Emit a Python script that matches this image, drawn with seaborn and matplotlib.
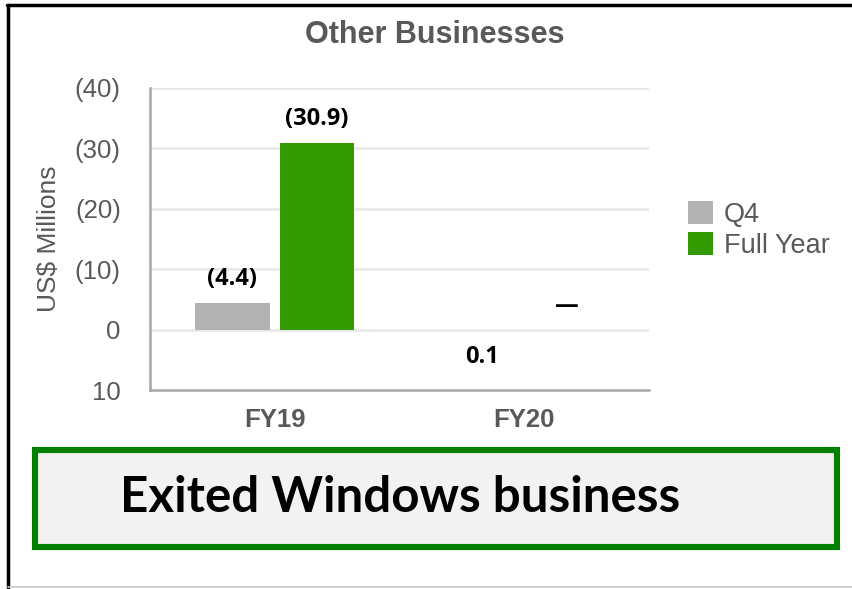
import matplotlib
matplotlib.use("Agg")
import matplotlib.pyplot as plt
import seaborn as sns
import pandas as pd
from matplotlib.patches import Patch, Rectangle
from matplotlib.lines import Line2D

# ---- data ----
categories = ["FY19", "FY20"]
series_names = ["Q4", "Full Year"]
q4_values = [-4.4, 0.1]
full_year_values = [-30.9, 0.0]
q4_labels = ["(4.4)", "0.1"]
full_year_labels = ["(30.9)", "\u2014"]
y_ticks = [-40, -30, -20, -10, 0, 10]
y_tick_labels = ["(40)", "(30)", "(20)", "(10)", "0", "10"]

colors = {"Q4": "#b2b2b2", "Full Year": "#339900"}
text_gray = "#595959"

df = pd.DataFrame({
    "Year": categories * 2,
    "Series": [series_names[0]] * len(categories) + [series_names[1]] * len(categories),
    "Value": q4_values + full_year_values,
})
labels_by_series = {"Q4": q4_labels, "Full Year": full_year_labels}

sns.set_theme(style="white")
plt.rcParams["font.family"] = ["Liberation Sans", "DejaVu Sans"]

W, H = 852, 589
fig = plt.figure(figsize=(W / 100, H / 100), dpi=100)
ax = fig.add_axes([150 / W, 1 - 390 / H, (649 - 150) / W, (390 - 88) / H])

sns.barplot(data=df, x="Year", y="Value", hue="Series", order=categories,
            hue_order=series_names, palette=colors, width=0.68, gap=0.12,
            ax=ax, legend=False, saturation=1, linewidth=0)

ax.set_ylim(10, -40)
ax.set_xlim(-0.5, 1.5)
ax.set_yticks(y_ticks)
ax.set_yticklabels(y_tick_labels, color=text_gray, fontsize=18.5)
ax.tick_params(axis="y", length=0, pad=21)
ax.tick_params(axis="x", length=0, pad=13)
for t in ax.get_xticklabels():
    t.set_fontweight("bold")
    t.set_fontsize(18.5)
    t.set_color(text_gray)
ax.set_xlabel("")
ax.set_ylabel("US$ Millions", color=text_gray, fontsize=19, labelpad=10)

for v in y_ticks[:-1]:
    ax.axhline(v, color="#e6e6e6", lw=1.8, zorder=0)
for s in ["top", "right"]:
    ax.spines[s].set_visible(False)
for s in ["left", "bottom"]:
    ax.spines[s].set_color("#a6a6a6")
    ax.spines[s].set_linewidth(1.8)

# data labels (axis is inverted: losses grow upward)
for container, name in zip(ax.containers, series_names):
    for bar, lab in zip(container, labels_by_series[name]):
        val = bar.get_height()
        x = bar.get_x() + bar.get_width() / 2
        off = -19 if val > 0 else 17
        ax.annotate(lab, (x, val), xytext=(0, off), textcoords="offset points",
                    ha="center", va="center", fontsize=17, fontweight="bold",
                    color="black", family=["Open Sans", "DejaVu Sans"])

# legend
handles = [Patch(facecolor=colors[n], edgecolor="none") for n in series_names]
fig.legend(handles, series_names, loc="upper left",
           bbox_to_anchor=(688 / W, 1 - 201 / H), frameon=False,
           fontsize=19.5, handlelength=0.92, handleheight=0.92,
           handletextpad=0.4, labelspacing=0.16, borderaxespad=0,
           borderpad=0, labelcolor=text_gray)

# title
fig.text(435 / W, 1 - 35 / H, "Other Businesses", ha="center", va="center",
         fontsize=22, fontweight="bold", color=text_gray)

# callout box
fig.patches.append(Rectangle((35 / W, 1 - 547 / H), (837 - 35) / W, (547 - 450) / H,
                             transform=fig.transFigure, facecolor="#f2f2f2",
                             edgecolor="#008000", linewidth=4.4))
fig.text(400 / W, 1 - 497 / H, "Exited Windows business", ha="center", va="center",
         fontsize=35.5, fontweight="bold", color="black", family=["Lato", "DejaVu Sans"])

# outer frame
fig.lines.append(Line2D([7 / W, 1], [1 - 5 / H, 1 - 5 / H], transform=fig.transFigure,
                        color="black", lw=2.5))
fig.lines.append(Line2D([8 / W, 8 / W], [1 - 5 / H, 0], transform=fig.transFigure,
                        color="black", lw=2.5))
fig.lines.append(Line2D([8 / W, 1], [1 - 587 / H, 1 - 587 / H], transform=fig.transFigure,
                        color="#c8c8c8", lw=1.2))

fig.savefig("out.png", dpi=100)
